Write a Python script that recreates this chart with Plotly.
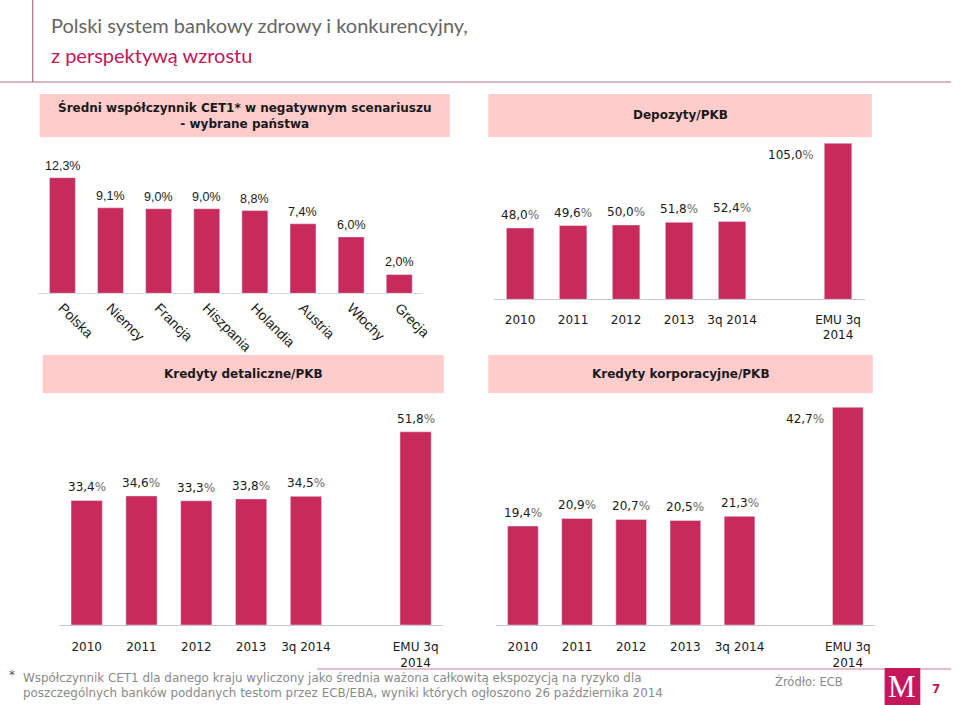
import plotly.graph_objects as go

W, H = 960, 705

# ---------------- data ----------------
countries = ["Polska", "Niemcy", "Francja", "Hiszpania", "Holandia", "Austria", "Włochy", "Grecja"]
cet1 = [12.3, 9.1, 9.0, 9.0, 8.8, 7.4, 6.0, 2.0]

periods = ["2010", "2011", "2012", "2013", "3q 2014", "EMU 3q<br>2014"]
deposits = [48.0, 49.6, 50.0, 51.8, 52.4, 105.0]
retail = [33.4, 34.6, 33.3, 33.8, 34.5, 51.8]
corporate = [19.4, 20.9, 20.7, 20.5, 21.3, 42.7]

spacer = " "
period_order = periods[:5] + [spacer] + periods[5:]

BAR = "#C82A5C"
PINK = "#FFCCCC"
CRIMSON = "#C0185A"
DARK = "#1a1a1a"
SANS = "DejaVu Sans"


def px(x):
    return x / W


def py(y):
    return 1 - y / H


def fmt(v, grey_pct=True):
    s = f"{v:.1f}".replace(".", ",")
    if grey_pct:
        return s + "<span style='color:#6a6a6a'>%</span>"
    return s + "%"


fig = go.Figure()
annotations = []
shapes = []

# ---------- chart 1: CET1 ----------
fig.add_trace(go.Bar(x=countries, y=cet1, marker_color=BAR, width=0.54,
                     xaxis="x", yaxis="y", hoverinfo="skip"))
for c, v in zip(countries, cet1):
    annotations.append(dict(x=c, y=v, xref="x", yref="y", text=fmt(v, False),
                            showarrow=False, yanchor="bottom", yshift=3,
                            font=dict(family="Liberation Sans", size=12.5, color=DARK)))

# ---------- charts 2-4 ----------
panels = [
    dict(vals=deposits, ax="2", left_label=True, width=0.52),
    dict(vals=retail, ax="3", left_label=False, width=0.57),
    dict(vals=corporate, ax="4", left_label=True, width=0.567),
]
for p in panels:
    ax = p["ax"]
    fig.add_trace(go.Bar(x=periods, y=p["vals"], marker_color=BAR, width=p["width"],
                         xaxis="x" + ax, yaxis="y" + ax, hoverinfo="skip"))
    for i, (c, v) in enumerate(zip(periods, p["vals"])):
        pos = period_order.index(c)  # category index on the axis
        last = i == len(periods) - 1
        if last and p["left_label"]:
            annotations.append(dict(x=pos, y=v, xref="x" + ax, yref="y" + ax, text=fmt(v),
                                    showarrow=False, xanchor="right", yanchor="middle",
                                    xshift=-22, yshift=-12,
                                    font=dict(family=SANS, size=12, color=DARK)))
        else:
            annotations.append(dict(x=pos, y=v, xref="x" + ax, yref="y" + ax, text=fmt(v),
                                    showarrow=False, yanchor="bottom", yshift=4,
                                    font=dict(family=SANS, size=12, color=DARK)))

layout_axes = {}
# chart 1 axes
layout_axes["xaxis"] = dict(domain=[px(38.7), px(427.3)], anchor="y", type="category",
                            showline=True, linecolor="#D8D8D8", linewidth=1,
                            showgrid=False, zeroline=False, ticks="", tickangle=45,
                            ticklabelstandoff=0,
                            tickfont=dict(family="Liberation Sans", size=14, color=DARK))
layout_axes["yaxis"] = dict(domain=[py(293.3), py(161.7)], anchor="x", range=[0, 14],
                            visible=False, fixedrange=True)

# chart 2
layout_axes["xaxis2"] = dict(domain=[px(498.3), px(872.7)], anchor="y2", type="category",
                             categoryorder="array", categoryarray=period_order, range=[-0.5, 6.5],
                             showline=True, linecolor="#C8C8C8", linewidth=1,
                             showgrid=False, zeroline=False, ticks="", ticklabelstandoff=9,
                             tickfont=dict(family=SANS, size=12, color=DARK))
layout_axes["yaxis2"] = dict(domain=[py(299.3), py(135.8)], anchor="x2", range=[0, 110],
                             visible=False, fixedrange=True)

# chart 3
layout_axes["xaxis3"] = dict(domain=[px(59.8), px(447.2)], anchor="y3", type="category",
                             categoryorder="array", categoryarray=period_order, range=[-0.5, 6.5],
                             showline=True, linecolor="#C8C8C8", linewidth=1,
                             showgrid=False, zeroline=False, ticks="", ticklabelstandoff=11,
                             tickfont=dict(family=SANS, size=12, color=DARK))
layout_axes["yaxis3"] = dict(domain=[py(625), py(416.1)], anchor="x3", range=[0, 56],
                             visible=False, fixedrange=True)

# chart 4
layout_axes["xaxis4"] = dict(domain=[px(500.5), px(883.2)], anchor="y4", type="category",
                             categoryorder="array", categoryarray=period_order, range=[-0.5, 6.5],
                             showline=True, linecolor="#C8C8C8", linewidth=1,
                             showgrid=False, zeroline=False, ticks="", ticklabelstandoff=11,
                             tickfont=dict(family=SANS, size=12, color=DARK))
layout_axes["yaxis4"] = dict(domain=[py(625), py(390.4)], anchor="x4", range=[0, 46],
                             visible=False, fixedrange=True)

# ---------- header boxes ----------
boxes = [
    (40, 94, 454, 137, "Średni współczynnik CET1* w negatywnym scenariuszu<br>- wybrane państwa"),
    (493, 94, 880, 137, "Depozyty/PKB"),
    (43, 355, 448, 393, "Kredyty detaliczne/PKB"),
    (493, 355, 881, 393, "Kredyty korporacyjne/PKB"),
]
for x0, y0, x1, y1, t in boxes:
    shapes.append(dict(type="rect", xref="paper", yref="paper", x0=px(x0), x1=px(x1),
                       y0=py(y1), y1=py(y0), fillcolor=PINK, line=dict(width=0), layer="below"))
    annotations.append(dict(x=px((x0 + x1) / 2), y=py((y0 + y1) / 2), xref="paper", yref="paper",
                            text="<b>" + t + "</b>", showarrow=False, xanchor="center",
                            yanchor="middle", font=dict(family=SANS, size=12, color=DARK)))

# ---------- title ----------
shapes.append(dict(type="line", xref="paper", yref="paper", x0=px(33), x1=px(33), y0=py(82), y1=py(0),
                   line=dict(color="#B86A88", width=1.2)))
shapes.append(dict(type="line", xref="paper", yref="paper", x0=0, x1=1, y0=py(82), y1=py(82),
                   line=dict(color="#B86A88", width=1.2)))
annotations.append(dict(x=px(49), y=py(25), xref="paper", yref="paper", showarrow=False,
                        xanchor="left", yanchor="middle",
                        text="Polski system bankowy zdrowy i konkurencyjny,",
                        font=dict(family="Lato", size=20, color="#666666")))
annotations.append(dict(x=px(49), y=py(55), xref="paper", yref="paper", showarrow=False,
                        xanchor="left", yanchor="middle", text="z perspektywą wzrostu",
                        font=dict(family="Lato", size=20, color=CRIMSON)))

# ---------- footer ----------
shapes.append(dict(type="line", xref="paper", yref="paper", x0=px(320), x1=1, y0=py(669), y1=py(669),
                   line=dict(color="#D07A9A", width=1)))
annotations.append(dict(x=px(7), y=py(675), xref="paper", yref="paper", showarrow=False,
                        xanchor="left", yanchor="middle", text="*",
                        font=dict(family=SANS, size=12, color="#555")))
annotations.append(dict(x=px(21), y=py(685.5), xref="paper", yref="paper", showarrow=False,
                        xanchor="left", yanchor="middle", align="left",
                        text="Współczynnik CET1 dla danego kraju wyliczony jako średnia ważona całkowitą ekspozycją na ryzyko dla"
                             "<br>poszczególnych banków poddanych testom przez ECB/EBA, wyniki których ogłoszono 26 października 2014",
                        font=dict(family=SANS, size=11.9, color="#8a8a8a")))
annotations.append(dict(x=px(780), y=py(681), xref="paper", yref="paper", showarrow=False,
                        xanchor="left", yanchor="middle", text="Źródło: ECB",
                        font=dict(family=SANS, size=11.5, color="#8a8a8a")))
shapes.append(dict(type="rect", xref="paper", yref="paper", x0=px(893), x1=px(929), y0=py(705),
                   y1=py(668), fillcolor="#C5175B", line=dict(width=0)))
annotations.append(dict(x=px(911), y=py(686), xref="paper", yref="paper", showarrow=False,
                        xanchor="center", yanchor="middle", text="M",
                        font=dict(family="Liberation Serif", size=31, color="white")))
annotations.append(dict(x=px(945), y=py(689), xref="paper", yref="paper", showarrow=False,
                        xanchor="center", yanchor="middle", text="<b>7</b>",
                        font=dict(family=SANS, size=12, color=CRIMSON)))

fig.update_layout(
    width=W, height=H,
    margin=dict(l=0, r=0, t=0, b=0),
    paper_bgcolor="white", plot_bgcolor="rgba(0,0,0,0)",
    showlegend=False, barmode="group", hovermode=False,
    annotations=annotations, shapes=shapes,
    **layout_axes,
)
for tr in fig.data:
    tr.cliponaxis = False

fig.write_html("out.html", config={"displayModeBar": False, "staticPlot": True},
               post_script="document.body.style.margin='0';document.body.style.overflow='hidden';")
